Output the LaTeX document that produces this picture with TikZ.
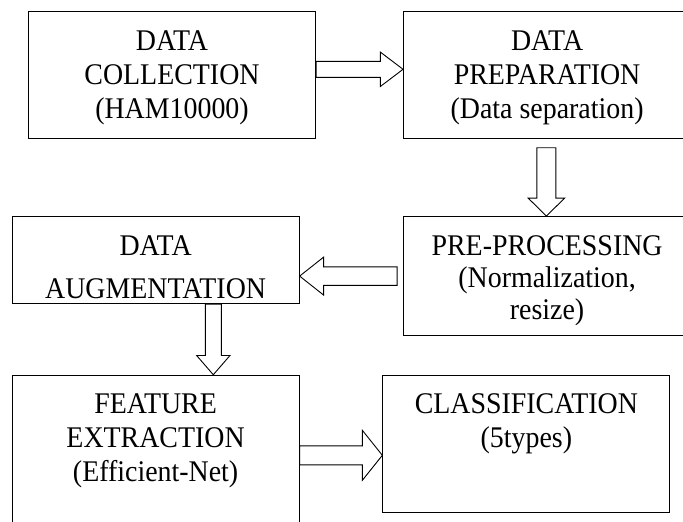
\documentclass[tikz,border=0pt]{standalone}
\usepackage{fontspec}
\setmainfont[FakeStretch=0.93]{Liberation Serif}
\usetikzlibrary{positioning, calc}

% hollow block arrow: from, to, shaft half-width, head half-width, head length
\newcommand{\hollowarrow}[5]{%
  \draw[blk] let \p1=(#1), \p2=(#2),
      \n1={veclen(\x2-\x1,\y2-\y1)}, \n2={(\x2-\x1)/\n1}, \n3={(\y2-\y1)/\n1} in
    ({\x1-#3*\n3},{\y1+#3*\n2})
    -- ({\x2-#5*\n2-#3*\n3},{\y2-#5*\n3+#3*\n2})
    -- ({\x2-#5*\n2-#4*\n3},{\y2-#5*\n3+#4*\n2})
    -- (\p2)
    -- ({\x2-#5*\n2+#4*\n3},{\y2-#5*\n3-#4*\n2})
    -- ({\x2-#5*\n2+#3*\n3},{\y2-#5*\n3-#3*\n2})
    -- ({\x1+#3*\n3},{\y1-#3*\n2}) -- cycle;}

\begin{document}
\begin{tikzpicture}[
  x=1pt, y=1pt,
  box/.style={draw, line width=1.1pt, minimum width=287pt, inner sep=0pt},
  txt/.style={align=center, inner sep=0pt, font=\fontsize{30}{34}\selectfont},
  blk/.style={draw, line width=0.9pt, line join=miter},
]
  \useasboundingbox (0,0) rectangle (683,-522);
  \clip (0,0) rectangle (683,-522);

  % boxes
  \node[box, minimum height=127pt] (coll) at (172,-75.3) {};
  \node[box, minimum height=127pt, right=87pt of coll] (prep) {};
  \node[box, minimum height=119pt, below=76.7pt of prep] (pre) {};
  \node[box, minimum height=87pt, left=103.4pt of pre.north west, anchor=north east] (aug) {};
  \node[box, minimum height=160pt, below=70.6pt of aug] (feat) {};
  \node[box, minimum height=137pt, right=82.7pt of feat.north east, anchor=north west] (cls) {};

  % texts
  \node[txt, below=19pt of coll.north] (coll-t) {DATA\\COLLECTION\\(HAM10000)};
  \node[txt, below=19pt of prep.north] (prep-t) {DATA\\PREPARATION\\(Data separation)};
  \begin{scope}
    \clip (pre.north west) rectangle ($(pre.east)+(0,-48.5)$);
    \node[txt, font=\fontsize{30}{32}\selectfont, below=19pt of pre.north] (pre-t) {PRE-PROCESSING\\(Normalization,\\resize)};
  \end{scope}
  \node[txt, font=\fontsize{30}{43}\selectfont, below=19pt of aug.north] (aug-t) {DATA\\AUGMENTATION};
  \node[txt, below=19pt of feat.north] (feat-t) {FEATURE\\EXTRACTION\\(Efficient-Net)};
  \node[txt, below=19pt of cls.north] (cls-t) {CLASSIFICATION\\(5types)};

  % arrows
  \hollowarrow{$(coll.east)+(0,6)$}{$(prep.west)+(0,6)$}{8}{17.2}{22.7}
  \hollowarrow{$(prep.south)+(-0.7,-8.4)$}{$(pre.north)+(-0.7,0)$}{9.5}{18.3}{18}
  \hollowarrow{$(pre.west)+(-6,0)$}{aug.east |- pre.west}{9.2}{19}{24}
  \hollowarrow{$(aug.south)+(57.7,0)$}{$(feat.north)+(57.7,0)$}{8}{16.7}{19.3}
  \hollowarrow{feat.east}{cls.west |- feat.east}{9.5}{25}{20}
\end{tikzpicture}
\end{document}
